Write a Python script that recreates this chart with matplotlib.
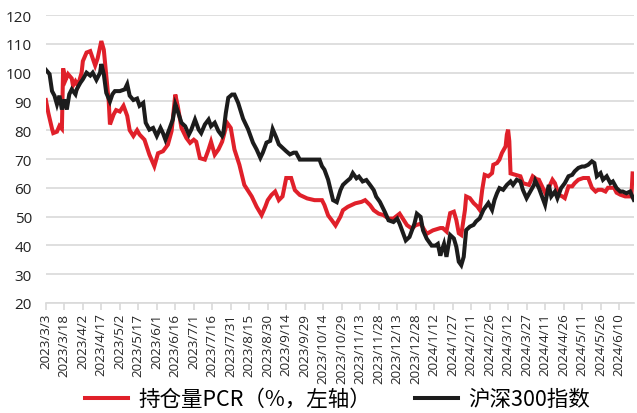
import datetime as dt
import matplotlib
matplotlib.use("Agg")
import matplotlib.pyplot as plt
import matplotlib.dates as mdates
import pandas as pd

# 持仓量PCR (%, left axis)
pcr_dates = [
    "2023-03-03", "2023-03-05", "2023-03-08", "2023-03-09", "2023-03-12", "2023-03-14",
    "2023-03-16", "2023-03-17", "2023-03-19", "2023-03-21", "2023-03-24", "2023-03-25",
    "2023-03-27", "2023-03-29", "2023-04-01", "2023-04-02", "2023-04-05", "2023-04-08",
    "2023-04-10", "2023-04-12", "2023-04-14", "2023-04-17", "2023-04-19", "2023-04-21",
    "2023-04-23", "2023-04-24", "2023-04-27", "2023-04-29", "2023-05-02", "2023-05-05",
    "2023-05-08", "2023-05-10", "2023-05-13", "2023-05-16", "2023-05-18", "2023-05-22",
    "2023-05-26", "2023-05-30", "2023-06-02", "2023-06-06", "2023-06-10", "2023-06-13",
    "2023-06-16", "2023-06-18", "2023-06-21", "2023-06-25", "2023-06-28", "2023-07-01",
    "2023-07-03", "2023-07-06", "2023-07-10", "2023-07-13", "2023-07-15", "2023-07-18",
    "2023-07-21", "2023-07-24", "2023-07-28", "2023-07-31", "2023-08-03", "2023-08-07",
    "2023-08-11", "2023-08-17", "2023-08-21", "2023-08-25", "2023-08-28", "2023-08-30",
    "2023-09-02", "2023-09-05", "2023-09-08", "2023-09-11", "2023-09-14", "2023-09-18",
    "2023-09-21", "2023-09-25", "2023-10-01", "2023-10-07", "2023-10-13", "2023-10-15",
    "2023-10-18", "2023-10-21", "2023-10-24", "2023-10-28", "2023-10-30", "2023-11-03",
    "2023-11-09", "2023-11-14", "2023-11-17", "2023-11-21", "2023-11-24", "2023-11-28",
    "2023-12-02", "2023-12-06", "2023-12-10", "2023-12-15", "2023-12-21", "2023-12-25",
    "2023-12-28", "2024-01-01", "2024-01-06", "2024-01-11", "2024-01-17", "2024-01-19",
    "2024-01-22", "2024-01-25", "2024-01-28", "2024-01-30", "2024-02-01", "2024-02-03",
    "2024-02-06", "2024-02-07", "2024-02-10", "2024-02-13", "2024-02-16", "2024-02-18",
    "2024-02-20", "2024-02-22", "2024-02-25", "2024-02-28", "2024-02-29", "2024-03-03",
    "2024-03-05", "2024-03-07", "2024-03-10", "2024-03-11", "2024-03-12", "2024-03-13",
    "2024-03-14", "2024-03-18", "2024-03-22", "2024-03-24", "2024-03-29", "2024-04-01",
    "2024-04-04", "2024-04-06", "2024-04-08", "2024-04-11", "2024-04-14", "2024-04-17",
    "2024-04-19", "2024-04-22", "2024-04-25", "2024-04-27", "2024-04-30", "2024-05-03",
    "2024-05-05", "2024-05-08", "2024-05-12", "2024-05-16", "2024-05-19", "2024-05-22",
    "2024-05-24", "2024-05-27", "2024-05-30", "2024-06-01", "2024-06-06", "2024-06-08",
    "2024-06-11", "2024-06-15", "2024-06-20", "2024-06-21",
]
pcr_values = [
    90.5, 86, 80.5, 79, 79.5, 81.5,
    80.5, 101.5, 97.5, 99.5, 98, 95.5,
    97, 95.5, 100, 104, 107, 107.5,
    105, 102.5, 105, 111, 108, 99,
    90, 82, 85.5, 87, 86.5, 88.5,
    85, 80, 78, 80, 78.5, 76.7,
    71.5, 67.5, 72, 72.7, 75, 79.7,
    92.4, 88.4, 80.8, 77.3, 75.6, 76.7,
    76, 70.3, 69.8, 73.3, 76, 71.5,
    73.3, 76, 82.6, 80.8, 73.3, 68,
    61, 57, 53.4, 50.5, 53.4, 55.7,
    57.5, 58.7, 55.7, 57, 63.4, 63.4,
    59.2, 57.5, 56.3, 55.7, 55.7, 54,
    50.4, 48.7, 46.9, 50, 52.2, 53.4,
    54.6, 55.1, 55.7, 54, 52.2, 51,
    50.5, 49.3, 49.3, 51, 47, 45.8,
    47, 47.5, 44, 45.2, 46, 46,
    44.8, 51.2, 51.7, 48.8, 44.2, 43.6,
    52.3, 57, 56.4, 54.7, 53.5, 52.3,
    59.3, 64.5, 64, 65.1, 68, 68.6,
    69.8, 72.1, 74.4, 78.5, 80.2, 76.2,
    65, 64.5, 64, 61.6, 61, 64,
    63, 62.8, 61, 58.3, 60, 62.8,
    61.6, 57.6, 57, 56.4, 60.5, 60.5,
    61.6, 62.8, 63.4, 63.4, 60, 58.7,
    59.3, 59.3, 58.7, 60, 60, 58.3,
    57.6, 57, 57, 65,
]

# 沪深300指数
hs300_dates = [
    "2023-03-03", "2023-03-06", "2023-03-08", "2023-03-10", "2023-03-12", "2023-03-14",
    "2023-03-16", "2023-03-18", "2023-03-20", "2023-03-22", "2023-03-24", "2023-03-27",
    "2023-03-28", "2023-03-31", "2023-04-02", "2023-04-05", "2023-04-08", "2023-04-10",
    "2023-04-13", "2023-04-16", "2023-04-17", "2023-04-19", "2023-04-21", "2023-04-24",
    "2023-04-26", "2023-04-28", "2023-05-02", "2023-05-06", "2023-05-08", "2023-05-10",
    "2023-05-13", "2023-05-16", "2023-05-18", "2023-05-21", "2023-05-23", "2023-05-26",
    "2023-05-29", "2023-06-01", "2023-06-04", "2023-06-06", "2023-06-08", "2023-06-11",
    "2023-06-14", "2023-06-16", "2023-06-18", "2023-06-21", "2023-06-24", "2023-06-27",
    "2023-06-29", "2023-07-02", "2023-07-05", "2023-07-07", "2023-07-10", "2023-07-13",
    "2023-07-15", "2023-07-18", "2023-07-21", "2023-07-24", "2023-07-25", "2023-07-27",
    "2023-07-29", "2023-08-01", "2023-08-03", "2023-08-06", "2023-08-10", "2023-08-14",
    "2023-08-18", "2023-08-21", "2023-08-24", "2023-08-26", "2023-08-29", "2023-09-01",
    "2023-09-03", "2023-09-06", "2023-09-08", "2023-09-11", "2023-09-14", "2023-09-17",
    "2023-09-20", "2023-09-22", "2023-09-25", "2023-10-03", "2023-10-11", "2023-10-13",
    "2023-10-15", "2023-10-18", "2023-10-20", "2023-10-22", "2023-10-25", "2023-10-28",
    "2023-10-30", "2023-11-02", "2023-11-05", "2023-11-07", "2023-11-10", "2023-11-12",
    "2023-11-15", "2023-11-18", "2023-11-21", "2023-11-24", "2023-11-26", "2023-11-29",
    "2023-12-03", "2023-12-06", "2023-12-10", "2023-12-13", "2023-12-15", "2023-12-18",
    "2023-12-20", "2023-12-23", "2023-12-27", "2023-12-29", "2024-01-01", "2024-01-03",
    "2024-01-06", "2024-01-10", "2024-01-13", "2024-01-15", "2024-01-17", "2024-01-18",
    "2024-01-20", "2024-01-22", "2024-01-25", "2024-01-28", "2024-01-30", "2024-02-01",
    "2024-02-03", "2024-02-05", "2024-02-07", "2024-02-10", "2024-02-13", "2024-02-15",
    "2024-02-18", "2024-02-21", "2024-02-23", "2024-02-25", "2024-02-28", "2024-03-01",
    "2024-03-03", "2024-03-05", "2024-03-08", "2024-03-11", "2024-03-14", "2024-03-16",
    "2024-03-19", "2024-03-22", "2024-03-24", "2024-03-27", "2024-03-30", "2024-04-02",
    "2024-04-03", "2024-04-06", "2024-04-08", "2024-04-11", "2024-04-14", "2024-04-16",
    "2024-04-19", "2024-04-21", "2024-04-24", "2024-04-27", "2024-04-30", "2024-05-03",
    "2024-05-05", "2024-05-08", "2024-05-11", "2024-05-13", "2024-05-16", "2024-05-19",
    "2024-05-21", "2024-05-23", "2024-05-26", "2024-05-28", "2024-05-31", "2024-06-03",
    "2024-06-05", "2024-06-08", "2024-06-11", "2024-06-13", "2024-06-16", "2024-06-19",
    "2024-06-22",
]
hs300_values = [
    101, 99.5, 93.6, 92, 89, 92,
    87.2, 90.7, 87.2, 92.5, 94.2, 92.5,
    94.2, 96.5, 97.7, 100, 99, 100,
    97.5, 100, 103, 99.5, 93, 90,
    92.5, 93.6, 93.6, 94.2, 96, 92,
    90.5, 91, 88.5, 89.5, 82.6, 80.2,
    80.8, 78, 80.8, 79, 76.7, 80.2,
    83.7, 89, 86.6, 82.6, 81.4, 78.5,
    80.2, 83.7, 80.2, 79, 82, 83.7,
    81.4, 82.6, 79.7, 78, 79, 86,
    91.3, 92.4, 92.4, 89.5, 84, 80.4,
    75.7, 73.3, 70.4, 72.2, 75.7, 76.3,
    80.4, 77.4, 75.1, 73.9, 72.7, 71.6,
    72.2, 72.2, 69.8, 69.8, 69.8, 67.5,
    66.3, 62.8, 59.2, 55.7, 55, 59.2,
    61, 62.2, 63.3, 65.1, 63.3, 63.9,
    62.2, 62.7, 61, 59.2, 56.9, 55.1,
    51.6, 48.7, 48.1, 49.3, 47.5, 44,
    41.7, 42.9, 47.5, 51, 49.9, 45.2,
    42.3, 39.9, 39.9, 40.5, 36.4, 38,
    40.5, 36, 43.6, 42.4, 39.5, 34.3,
    33.1, 36, 45.3, 46.5, 47.1, 48.3,
    49.4, 52.3, 53.5, 54.7, 52.3, 55.8,
    58.1, 59.9, 59.3, 61, 62.2, 61,
    62.8, 62.2, 59.3, 56.4, 58.7, 61,
    62.5, 59.9, 57.6, 54.1, 61, 57,
    58.7, 56.4, 59.9, 61.6, 64, 64.5,
    65.7, 66.9, 67.4, 67.4, 68, 69.2,
    68.6, 64, 65.1, 62.8, 64, 61.6,
    62.2, 59.9, 58.7, 58.7, 58.1, 58.7,
    55.8,
]

legend_labels = ["持仓量PCR（%，左轴）", "沪深300指数"]
y_ticks = [20, 30, 40, 50, 60, 70, 80, 90, 100, 110, 120]

x_start = pd.Timestamp("2023-03-03")
x_end = pd.Timestamp("2024-06-22")
x_ticks = pd.date_range(x_start, x_end, freq="15D")

fig = plt.figure(figsize=(6.37, 4.14), dpi=100)
ax = fig.add_axes([0.072, 0.266, 0.923, 0.695])

ax.plot(pd.to_datetime(pcr_dates), pcr_values, color="#e0202a", lw=2.9,
        label=legend_labels[0], solid_joinstyle="miter")
ax.plot(pd.to_datetime(hs300_dates), hs300_values, color="#1c1c1c", lw=2.9,
        label=legend_labels[1], solid_joinstyle="miter")

ax.set_ylim(20, 120)
ax.set_yticks(y_ticks)
ax.set_xlim(x_start, x_end)
ax.set_xticks(x_ticks)
ax.set_xticklabels([f"{d.year}/{d.month}/{d.day}" for d in x_ticks],
                   rotation=90, fontsize=9.6, family="Open Sans", color="#262626")
for lbl in ax.get_yticklabels():
    lbl.set_family("Open Sans")
    lbl.set_fontsize(11)
    lbl.set_color("#222222")

ax.grid(axis="y", color="#d9d9d9", lw=1.2)
ax.set_axisbelow(True)
for s in ["left", "right", "top"]:
    ax.spines[s].set_visible(False)
ax.spines["bottom"].set_color("#d9d9d9")
ax.spines["bottom"].set_linewidth(1.2)
ax.tick_params(axis="y", length=0, pad=10)
ax.tick_params(axis="x", length=5, color="#d9d9d9", width=1.2, pad=2)

fig.legend(loc="lower center", bbox_to_anchor=(0.53, -0.04), ncol=2, frameon=False,
           prop={"family": ["Noto Sans CJK SC", "DejaVu Sans"], "size": 15.5},
           handlelength=2.0, columnspacing=2.0, handletextpad=0.5)

fig.savefig("out.png", dpi=100)
